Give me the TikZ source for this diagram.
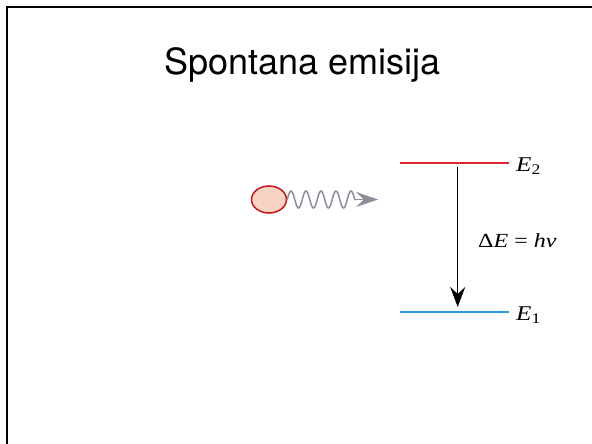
\documentclass[tikz,border=0pt]{standalone}
\usepackage{fontspec}
\setmainfont{TeX Gyre Heros}
\newfontfamily\tnr[FakeStretch=1.2]{Liberation Serif}
\usetikzlibrary{arrows.meta,shapes.geometric}
\definecolor{levred}{RGB}{220,40,50}
\definecolor{levblue}{RGB}{40,155,220}
\definecolor{peach}{RGB}{248,213,195}
\definecolor{partred}{RGB}{200,20,30}
\definecolor{wavegray}{RGB}{140,142,156}
\tikzset{
  level/.style={line width=1.8pt},
  lab/.style={inner sep=0pt, anchor=base west, font=\tnr\fontsize{20}{24}\selectfont},
  elab/.style={lab, font=\tnr\fontsize{21}{24}\selectfont},
}
\begin{document}
\begin{tikzpicture}[x=1pt,y=-1pt]
\useasboundingbox (0,0) rectangle (592,444);
\fill[white] (0,0) rectangle (592,444);
\draw[line width=2pt] (7,444) -- (7,7) -- (592,7);
\node[inner sep=0pt, anchor=base, font=\fontsize{36}{40}\selectfont] (title) at (302.5,75) {Spontana emisija};
% energy levels
\coordinate (e2l) at (400,163);
\coordinate (e2r) at (509,163);
\coordinate (e1l) at (400,312);
\coordinate (e1r) at (509,312);
\draw[level, draw=levred] (e2l) -- (e2r);
\draw[level, draw=levblue] (e1l) -- (e1r);
\node[elab] (E2) at (516,171) {\itshape E\textsubscript{\upshape 2}};
\node[elab] (E1) at (516,320) {\itshape E\textsubscript{\upshape 1}};
\coordinate (atop) at (457.7,167);
\coordinate (abot) at (457.7,307);
\draw[line width=1.4pt, -{Stealth[length=20pt,width=15pt,inset=7pt]}] (atop) -- (abot);
\node[lab] (dE) at (478,247) {Δ\textit{E} = \textit{hν}};
% particle and photon
\node[ellipse, draw=partred, fill=peach, line width=1.5pt, minimum width=35pt, minimum height=27pt, inner sep=0pt] (part) at (269,199.5) {};
\coordinate (wend) at (355,199.5);
\coordinate (tip) at (378,199.5);
\draw[wavegray, line width=1.5pt, shift={(part.east)}] plot[domain=0:1620, samples=120, smooth] ({\x/360*15}, {-8.5*sin(\x)}) -- (wend);
\draw[wavegray, line width=1.5pt, -{Stealth[length=22pt,width=15pt,inset=8pt]}] (wend) -- (tip);
\end{tikzpicture}
\end{document}
